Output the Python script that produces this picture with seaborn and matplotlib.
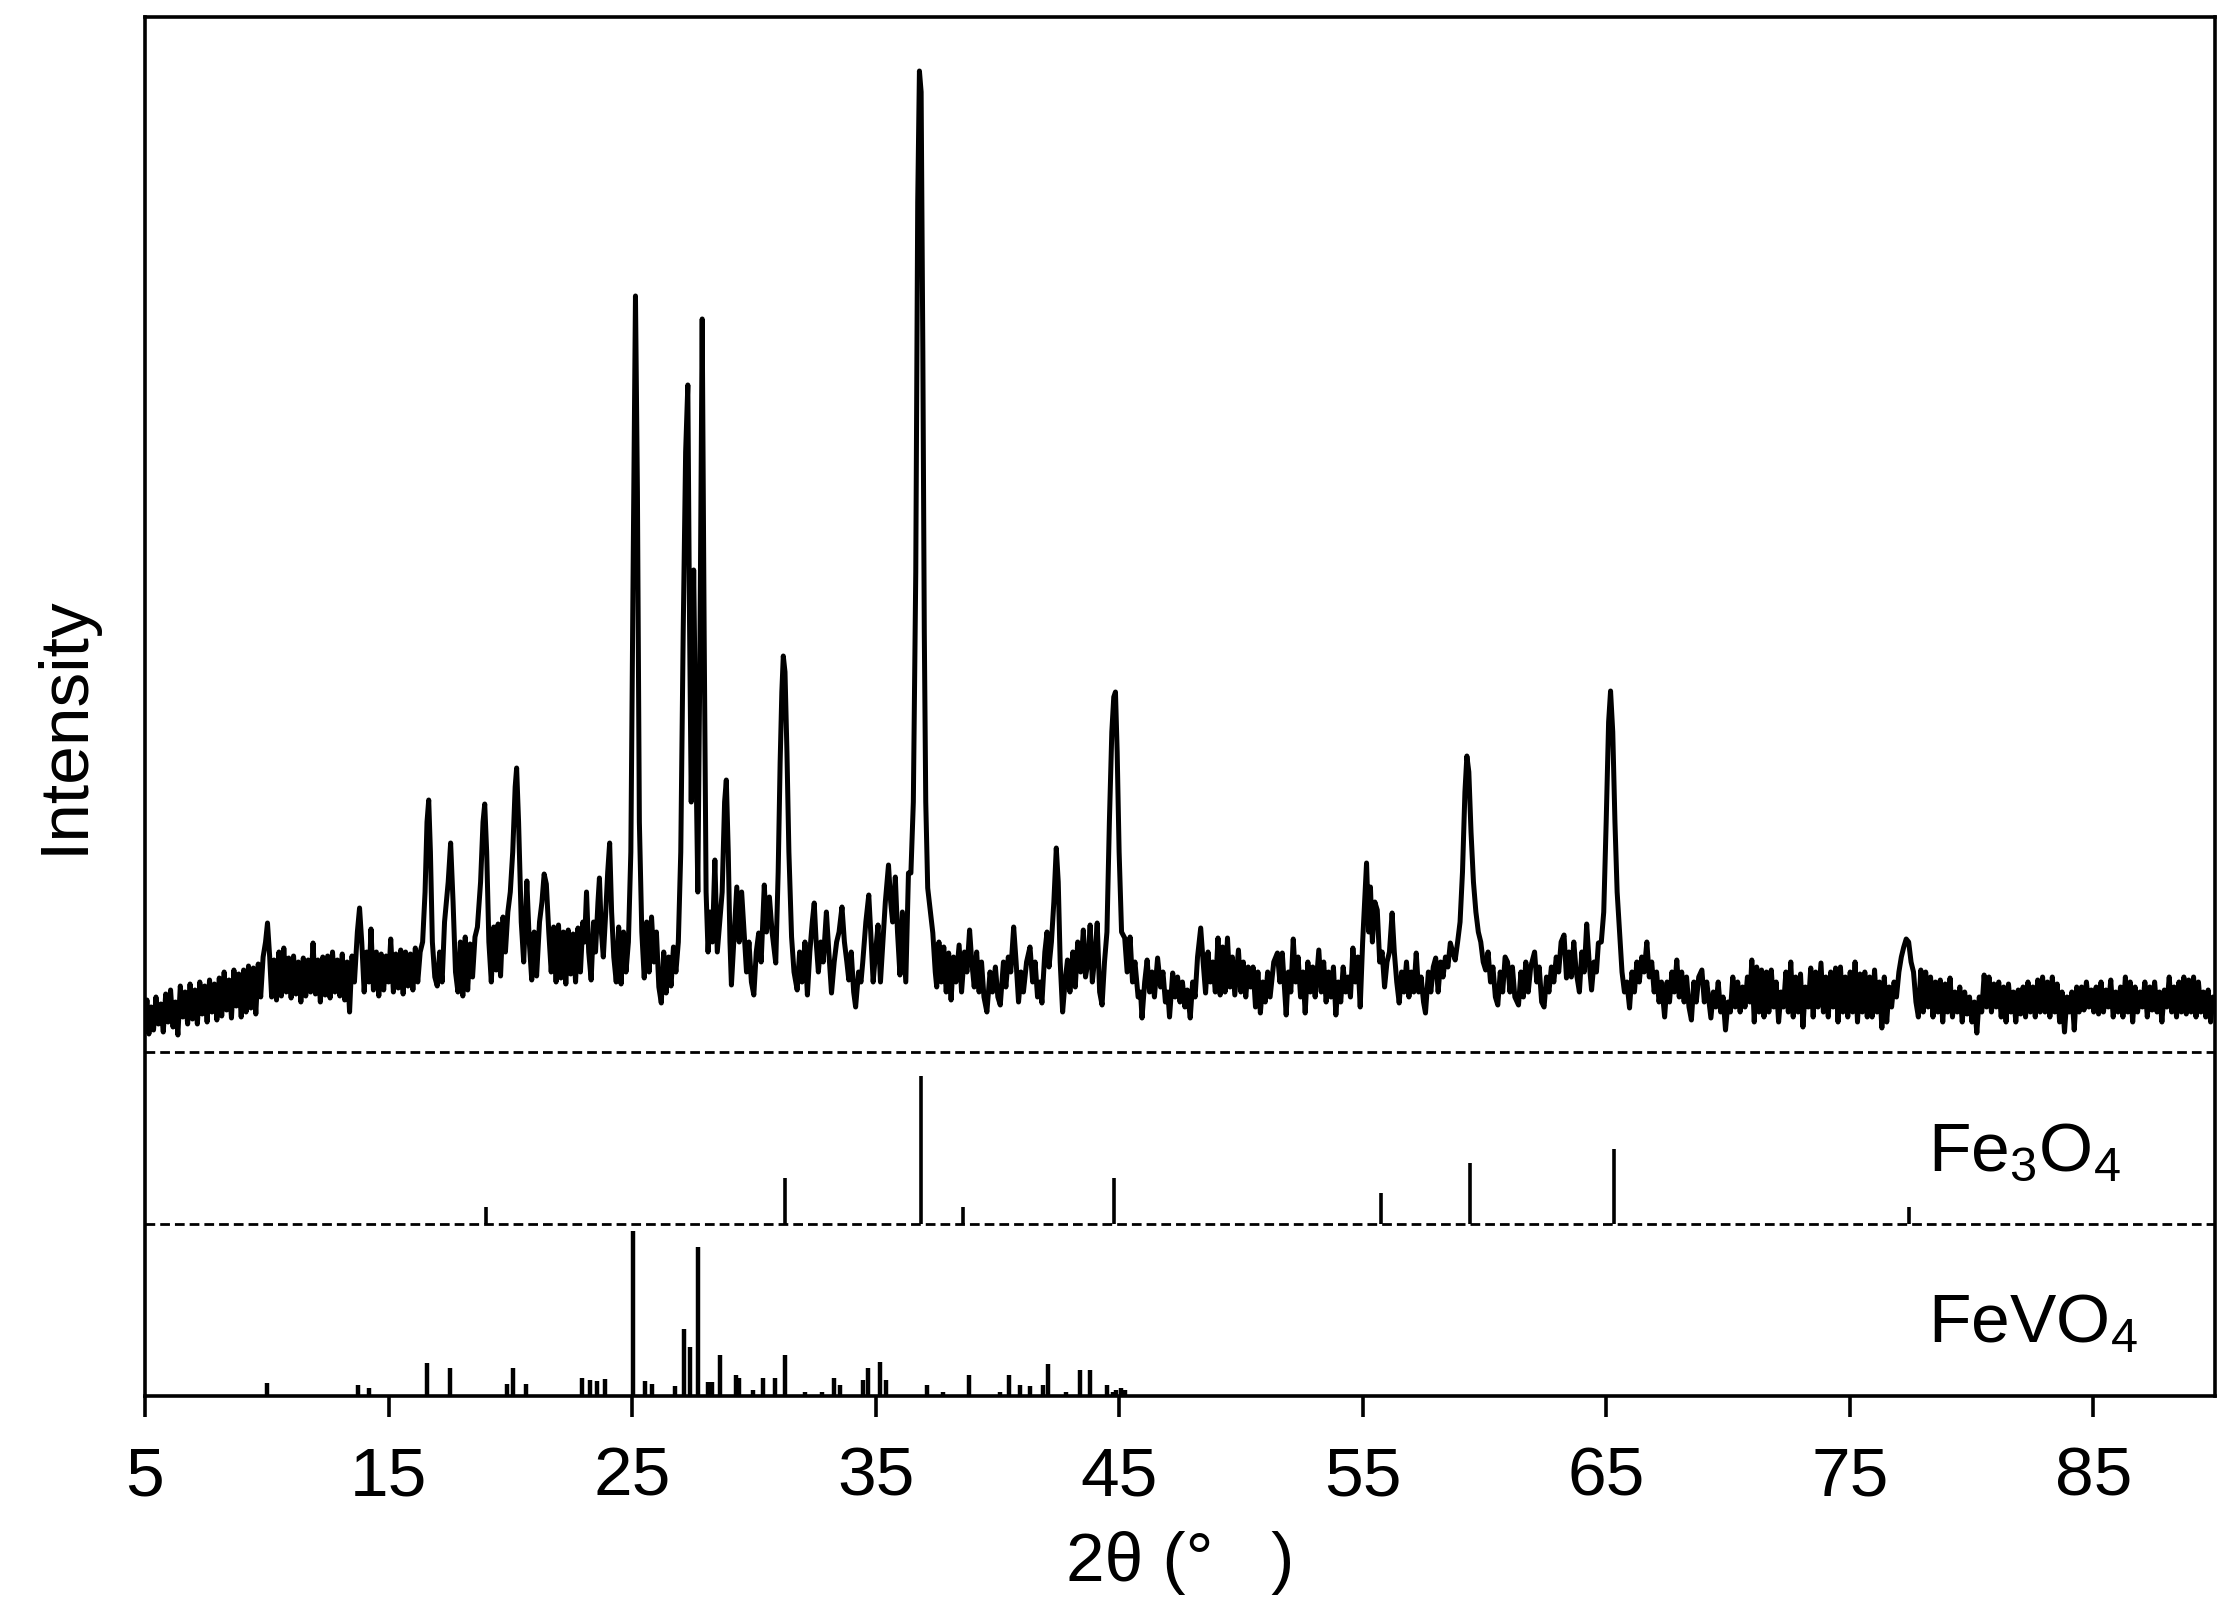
import numpy as np
import pandas as pd
import matplotlib
matplotlib.use("Agg")
import matplotlib.pyplot as plt
import seaborn as sns

# ---------------- data ----------------
# measured pattern: (2theta in degrees, intensity above the separator line, arb. units)
xrd_pattern = [
    (5.0,30),(5.08,52),(5.16,18),(5.25,45),(5.35,22),(5.45,55),(5.55,28),(5.65,48),(5.75,20),(5.85,58),
    (5.95,30),(6.05,62),(6.15,25),(6.25,50),(6.35,17),(6.45,66),(6.55,35),(6.65,60),(6.75,28),(6.85,68),
    (6.95,33),(7.05,62),(7.15,28),(7.25,70),(7.35,38),(7.45,66),(7.55,30),(7.65,72),(7.75,40),(7.85,68),
    (7.95,32),(8.05,74),(8.15,36),(8.25,80),(8.35,42),(8.45,72),(8.55,34),(8.65,82),(8.75,46),(8.85,78),
    (8.95,35),(9.05,82),(9.15,40),(9.25,86),(9.35,44),(9.45,84),(9.55,38),(9.65,88),(9.75,55),(9.85,95),
    (9.95,110),(10.03,129),(10.12,95),(10.2,55),
    (10.3,92),(10.4,52),(10.5,100),(10.6,56),(10.7,104),(10.8,60),(10.9,94),(11.0,54),(11.1,96),(11.2,58),
    (11.3,90),(11.4,50),(11.5,94),(11.6,56),(11.7,92),(11.8,60),(11.9,109),(12.0,58),(12.1,92),(12.2,50),
    (12.3,95),(12.4,57),(12.5,96),(12.6,54),(12.7,100),(12.8,60),(12.9,92),(13.0,56),(13.1,98),(13.2,52),
    (13.3,90),(13.4,40),(13.5,96),(13.6,70),(13.72,120),(13.81,144),(13.9,110),(14.0,60),(14.1,100),(14.2,70),
    (14.28,123),(14.38,62),(14.5,100),(14.6,56),(14.7,98),(14.8,62),(14.9,96),(15.0,70),(15.09,113),(15.2,60),
    (15.3,98),(15.4,64),(15.5,102),(15.6,58),(15.7,100),(15.8,66),(15.9,98),(16.0,62),(16.1,104),(16.2,70),
    (16.3,100),(16.4,110),(16.5,160),(16.58,230),(16.65,252),(16.72,200),(16.8,110),(16.9,75),(17.0,66),(17.1,100),
    (17.2,70),(17.3,130),(17.45,170),(17.55,209),(17.65,150),(17.75,80),(17.85,60),(17.95,110),(18.05,56),(18.15,115),
    (18.25,62),(18.35,108),(18.45,75),(18.55,115),(18.65,125),(18.78,170),(18.88,230),(18.95,248),(19.03,200),(19.12,110),
    (19.22,70),(19.32,125),(19.42,82),(19.5,128),(19.6,76),(19.7,135),(19.8,100),(19.9,140),(20.0,160),(20.1,200),
    (20.2,265),(20.26,284),(20.34,230),(20.45,130),(20.55,90),(20.68,171),(20.78,110),(20.88,72),(20.98,120),(21.08,76),
    (21.2,130),(21.3,150),(21.39,178),(21.48,168),(21.58,120),(21.68,80),(21.78,125),(21.88,70),(21.98,127),(22.08,74),
    (22.18,120),(22.28,68),(22.38,122),(22.48,78),(22.58,118),(22.68,70),(22.78,124),(22.88,80),(22.98,130),(23.05,110),
    (23.13,160),(23.22,100),(23.32,72),(23.42,130),(23.5,100),(23.6,150),(23.66,174),(23.74,120),(23.82,95),(23.92,140),
    (24.0,180),(24.08,209),(24.16,140),(24.25,95),(24.35,70),(24.45,125),(24.55,68),(24.65,120),(24.75,80),(24.85,110),
    (24.95,200),(25.05,500),(25.14,756),(25.22,560),(25.3,230),(25.4,120),(25.5,74),(25.6,130),(25.7,80),(25.8,135),
    (25.9,90),(26.0,120),(26.1,65),(26.2,49),(26.3,100),(26.4,59),(26.5,95),(26.6,66),(26.7,105),(26.8,80),
    (26.9,110),(27.0,200),(27.1,420),(27.2,600),(27.29,667),(27.36,430),(27.43,250),(27.53,482),(27.62,300),(27.7,160),
    (27.78,380),(27.88,733),(27.96,420),(28.04,160),(28.12,100),(28.2,140),(28.3,110),(28.4,192),(28.5,100),(28.6,130),
    (28.7,160),(28.8,250),(28.87,272),(28.95,200),(29.02,110),(29.08,67),(29.2,120),(29.3,165),(29.4,110),(29.5,160),
    (29.6,120),(29.7,80),(29.8,110),(29.9,70),(30.0,57),(30.1,100),(30.2,119),(30.3,90),(30.43,167),(30.52,120),
    (30.64,155),(30.75,120),(30.9,89),(31.0,180),(31.08,289),(31.15,360),(31.21,396),(31.28,380),(31.36,300),(31.44,200),
    (31.55,115),(31.65,80),(31.78,62),(31.88,100),(31.98,70),(32.1,110),(32.2,57),(32.3,100),(32.4,130),(32.48,149),
    (32.56,110),(32.65,80),(32.75,110),(32.85,90),(32.98,140),(33.08,100),(33.19,59),(33.3,90),(33.4,110),(33.5,120),
    (33.62,145),(33.72,110),(33.82,90),(33.9,72),(34.0,100),(34.1,60),(34.18,45),(34.3,80),(34.4,70),(34.47,89),
    (34.6,130),(34.72,157),(34.8,120),(34.9,70),(35.0,100),(35.1,127),(35.2,70),(35.3,110),(35.4,150),(35.53,187),
    (35.62,150),(35.7,130),(35.81,175),(35.9,120),(36.0,77),(36.1,140),(36.24,70),(36.35,179),(36.45,179),(36.55,250),
    (36.65,480),(36.73,850),(36.8,981),(36.87,960),(36.94,700),(37.0,420),(37.06,250),(37.14,164),(37.25,140),(37.35,119),
    (37.45,80),(37.51,65),(37.6,110),(37.7,70),(37.8,105),(37.9,60),(38.0,99),(38.1,52),(38.2,95),(38.3,70),
    (38.43,107),(38.53,60),(38.65,100),(38.75,80),(38.86,122),(38.95,90),(39.05,65),(39.15,100),(39.25,60),(39.35,90),
    (39.45,55),(39.57,40),(39.7,80),(39.8,60),(39.92,85),(40.02,55),(40.12,47),(40.25,90),(40.35,65),(40.45,95),
    (40.55,80),(40.67,125),(40.77,90),(40.87,50),(40.97,80),(41.07,60),(41.2,90),(41.34,105),(41.45,70),(41.55,90),
    (41.65,55),(41.75,70),(41.83,49),(41.95,100),(42.04,120),(42.12,85),(42.22,110),(42.32,150),(42.42,204),(42.5,170),
    (42.58,90),(42.68,40),(42.78,70),(42.88,92),(42.98,60),(43.1,100),(43.2,65),(43.3,110),(43.42,80),(43.53,122),
    (43.62,75),(43.72,90),(43.81,127),(43.9,70),(44.0,95),(44.1,129),(44.2,60),(44.3,47),(44.4,90),(44.5,120),
    (44.6,230),(44.7,320),(44.78,355),(44.85,360),(44.92,300),(45.0,200),(45.1,120),(45.23,114),(45.33,80),(45.45,115),
    (45.55,70),(45.65,90),(45.78,55),(45.88,60),(45.94,34),(46.05,70),(46.15,92),(46.25,60),(46.35,80),(46.45,55),
    (46.58,94),(46.7,65),(46.8,80),(46.9,50),(47.0,60),(47.07,35),(47.2,79),(47.3,55),(47.4,75),(47.5,50),
    (47.6,70),(47.7,45),(47.8,62),(47.92,34),(48.02,70),(48.12,55),(48.22,95),(48.35,124),(48.45,90),(48.55,59),
    (48.65,100),(48.75,70),(48.85,90),(48.95,60),(49.06,114),(49.15,57),(49.25,105),(49.35,60),(49.45,114),(49.55,65),
    (49.65,95),(49.75,57),(49.9,102),(50.0,60),(50.1,90),(50.2,55),(50.3,85),(50.4,65),(50.5,85),(50.6,45),
    (50.7,80),(50.8,39),(50.9,70),(51.0,50),(51.1,80),(51.2,55),(51.35,90),(51.5,99),(51.6,70),(51.7,99),
    (51.86,37),(51.95,80),(52.05,60),(52.15,113),(52.25,70),(52.35,95),(52.45,55),(52.55,80),(52.64,39),(52.75,90),
    (52.85,60),(52.95,85),(53.05,55),(53.2,102),(53.3,60),(53.4,90),(53.5,50),(53.6,80),(53.7,55),(53.8,85),
    (53.9,37),(54.0,70),(54.1,50),(54.2,85),(54.3,60),(54.4,75),(54.5,55),(54.6,104),(54.7,70),(54.8,95),
    (54.9,45),(55.0,110),(55.1,160),(55.16,189),(55.25,120),(55.32,165),(55.4,110),(55.5,150),(55.6,142),(55.7,90),
    (55.8,100),(55.9,65),(56.0,90),(56.1,100),(56.21,139),(56.3,100),(56.4,70),(56.5,49),(56.6,80),(56.7,60),
    (56.8,90),(56.9,55),(57.0,80),(57.1,60),(57.2,99),(57.3,60),(57.4,75),(57.5,50),(57.58,39),(57.7,80),
    (57.8,60),(57.9,85),(58.0,94),(58.1,60),(58.2,90),(58.3,75),(58.4,95),(58.5,85),(58.6,109),(58.7,100),
    (58.8,92),(58.9,110),(59.0,130),(59.1,180),(59.2,260),(59.28,296),(59.36,280),(59.45,220),(59.55,170),(59.65,140),
    (59.75,120),(59.85,110),(59.95,90),(60.05,82),(60.15,100),(60.25,70),(60.35,85),(60.45,55),(60.55,47),(60.65,80),
    (60.75,60),(60.85,95),(60.95,90),(61.05,60),(61.15,85),(61.25,55),(61.4,47),(61.5,80),(61.6,55),(61.7,90),
    (61.8,60),(61.9,85),(62.06,100),(62.15,70),(62.25,85),(62.35,50),(62.45,45),(62.55,75),(62.65,60),(62.75,85),
    (62.85,70),(62.95,95),(63.05,80),(63.15,110),(63.27,117),(63.37,74),(63.47,100),(63.57,75),(63.67,110),(63.77,80),
    (63.9,60),(64.0,100),(64.1,80),(64.2,128),(64.3,90),(64.4,62),(64.5,90),(64.6,80),(64.68,109),(64.8,110),
    (64.9,140),(65.0,230),(65.1,330),(65.18,361),(65.27,320),(65.36,230),(65.45,160),(65.55,120),(65.65,80),(65.75,60),
    (65.85,70),(65.96,44),(66.06,80),(66.16,60),(66.26,90),(66.36,70),(66.46,95),(66.56,80),(66.67,110),(66.77,75),
    (66.87,90),(66.97,60),(67.07,80),(67.17,50),(67.27,70),(67.4,35),(67.5,70),(67.6,50),(67.7,80),(67.8,60),
    (67.9,92),(68.0,55),(68.1,80),(68.2,50),(68.3,75),(68.4,45),(68.5,32),(68.6,70),(68.7,50),(68.8,75),
    (68.93,82),(69.03,50),(69.13,70),(69.3,34),(69.4,60),(69.5,45),(69.6,70),(69.7,40),(69.8,55),(69.9,22),
    (70.0,50),(70.1,40),(70.2,75),(70.3,45),(70.4,70),(70.5,40),(70.6,65),(70.7,45),(70.8,75),(70.9,50),
    (70.98,92),(71.08,30),(71.18,85),(71.28,40),(71.38,82),(71.48,35),(71.58,80),(71.68,40),(71.78,82),(71.88,45),
    (71.98,70),(72.08,30),(72.18,60),(72.28,45),(72.38,80),(72.48,40),(72.58,90),(72.68,35),(72.78,75),(72.88,40),
    (72.98,78),(73.08,25),(73.18,65),(73.3,45),(73.4,84),(73.5,35),(73.6,80),(73.7,45),(73.82,89),(73.92,40),
    (74.02,75),(74.12,35),(74.22,80),(74.32,45),(74.42,84),(74.52,30),(74.62,85),(74.72,40),(74.82,75),(74.92,35),
    (75.02,80),(75.12,40),(75.22,90),(75.32,30),(75.42,78),(75.52,40),(75.62,80),(75.72,35),(75.82,75),(75.92,35),
    (76.02,82),(76.12,40),(76.22,70),(76.32,24),(76.42,75),(76.52,30),(76.62,65),(76.72,45),(76.82,70),(76.92,55),
    (77.02,80),(77.12,95),(77.22,105),(77.32,113),(77.42,110),(77.52,90),(77.62,80),(77.72,50),(77.82,35),(77.92,82),
    (78.02,40),(78.12,80),(78.22,45),(78.32,75),(78.42,35),(78.52,70),(78.62,40),(78.72,72),(78.82,30),(78.92,68),
    (79.02,40),(79.12,74),(79.22,35),(79.32,60),(79.42,40),(79.52,65),(79.62,30),(79.72,60),(79.82,38),(79.92,55),
    (80.02,30),(80.12,50),(80.22,19),(80.32,55),(80.42,40),(80.52,77),(80.62,45),(80.72,75),(80.82,40),(80.92,68),
    (81.02,45),(81.12,70),(81.22,35),(81.32,65),(81.42,30),(81.52,68),(81.62,40),(81.72,60),(81.82,30),(81.92,62),
    (82.02,38),(82.12,65),(82.22,35),(82.32,70),(82.42,40),(82.52,65),(82.62,35),(82.72,72),(82.82,40),(82.92,75),
    (83.02,40),(83.12,70),(83.22,35),(83.32,75),(83.42,40),(83.52,68),(83.62,30),(83.72,60),(83.82,20),(83.92,55),
    (84.02,40),(84.12,60),(84.22,22),(84.32,65),(84.42,40),(84.52,65),(84.62,42),(84.72,70),(84.82,45),(84.92,62),
    (85.02,40),(85.12,65),(85.22,38),(85.32,70),(85.42,40),(85.52,62),(85.62,45),(85.72,72),(85.82,35),(85.92,60),
    (86.02,40),(86.12,65),(86.22,35),(86.32,75),(86.42,40),(86.52,70),(86.62,30),(86.72,65),(86.82,40),(86.92,60),
    (87.02,45),(87.12,70),(87.22,35),(87.32,65),(87.42,42),(87.52,70),(87.62,40),(87.72,60),(87.82,30),(87.92,62),
    (88.02,45),(88.12,75),(88.22,40),(88.32,65),(88.42,35),(88.52,70),(88.62,40),(88.72,75),(88.82,38),(88.92,72),
    (89.02,40),(89.12,75),(89.22,35),(89.32,70),(89.42,40),(89.52,60),(89.62,35),(89.72,62),(89.82,30),(89.92,55),
    (90.0,45),
]

# Fe3O4 reference pattern: positions (2theta) and relative intensities (%)
fe3o4_two_theta = [18.99, 31.29, 36.85, 38.58, 44.81, 55.74, 59.41, 65.31, 77.43]
fe3o4_rel_int = [11.3, 30.8, 100.0, 11.3, 30.8, 21.1, 40.9, 50.6, 11.3]

# FeVO4 reference pattern: positions (2theta) and relative intensities (%)
fevo4_two_theta = [10.03, 13.73, 14.21, 16.57, 17.51, 19.87, 20.10, 20.65, 22.94, 23.27,
                   23.56, 23.89, 25.04, 25.55, 25.83, 26.76, 27.13, 27.38, 27.71, 28.12,
                   28.30, 28.60, 29.26, 29.40, 29.97, 30.38, 30.88, 31.26, 32.11, 32.81,
                   33.30, 33.54, 34.50, 34.67, 35.19, 35.44, 37.10, 37.78, 38.83, 40.10,
                   40.47, 40.92, 41.35, 41.89, 42.10, 42.82, 43.38, 43.79, 44.50, 44.73,
                   44.88, 45.08, 45.24]
fevo4_rel_int = [7.7, 6.8, 4.7, 19.8, 16.8, 7.1, 16.8, 7.1, 10.7, 9.7,
                 8.9, 10.5, 100.0, 9.3, 7.4, 5.9, 40.5, 29.5, 90.0, 8.7,
                 8.7, 24.6, 12.5, 10.7, 3.8, 10.9, 10.7, 24.6, 2.6, 2.6,
                 10.9, 6.8, 9.7, 16.9, 20.8, 9.7, 6.8, 2.6, 12.5, 2.6,
                 12.5, 6.8, 5.9, 6.8, 19.5, 2.6, 15.5, 15.5, 6.8, 2.6,
                 3.8, 4.7, 3.6]

x_ticks = [5, 15, 25, 35, 45, 55, 65, 75, 85]
x_label = "2θ (°   )"
y_label = "Intensity"
phase_labels = [r"Fe$_3$O$_4$", r"FeVO$_4$"]

# ---------------- layout / style ----------------
FEVO4_BASE, FEVO4_SCALE = 0.0, 165.3 / 100.0
FE3O4_BASE, FE3O4_SCALE = 172.0, 148.3 / 100.0
PATTERN_BASE = 344.0
Y_TOP = 1379.0

sns.set_style("white")
plt.rcParams["font.family"] = ["Liberation Sans", "DejaVu Sans"]
plt.rcParams["mathtext.fontset"] = "custom"
plt.rcParams["mathtext.rm"] = "Liberation Sans"
plt.rcParams["mathtext.it"] = "Liberation Sans:italic"
plt.rcParams["mathtext.default"] = "regular"
for key in ("text.color", "axes.labelcolor", "xtick.color", "ytick.color", "axes.edgecolor"):
    plt.rcParams[key] = "black"

W, H = 2234, 1616
fig = plt.figure(figsize=(W / 100, H / 100), dpi=100)
ax = fig.add_axes([145 / W, 1 - 1396 / H, (2215 - 145) / W, (1396 - 17) / H])

df = pd.DataFrame(xrd_pattern, columns=["two_theta", "intensity"])
df["y"] = df["intensity"] + PATTERN_BASE
sns.lineplot(data=df, x="two_theta", y="y", ax=ax, color="black",
             linewidth=3.6, estimator=None, sort=False)

ax.vlines(fe3o4_two_theta, FE3O4_BASE,
          FE3O4_BASE + np.array(fe3o4_rel_int) * FE3O4_SCALE,
          color="black", linewidth=2.6)
ax.vlines(fevo4_two_theta, FEVO4_BASE,
          FEVO4_BASE + np.array(fevo4_rel_int) * FEVO4_SCALE,
          color="black", linewidth=3.2)

for yb in (FE3O4_BASE, PATTERN_BASE):
    ax.axhline(yb, color="black", linewidth=2.0, linestyle=(0, (3.5, 1.8)))

ax.text(78.2, 225, phase_labels[0], fontsize=50, ha="left", va="baseline", color="black")
ax.text(78.2, 54, phase_labels[1], fontsize=50, ha="left", va="baseline", color="black")

ax.set_xlim(5, 90)
ax.set_ylim(0, Y_TOP)
ax.set_xticks(x_ticks)
ax.set_xticklabels([str(t) for t in x_ticks])
ax.set_yticks([])
ax.tick_params(axis="x", direction="out", length=15, width=2.6,
               labelsize=50, pad=21, color="black", labelcolor="black", bottom=True)

for sp in ax.spines.values():
    sp.set_visible(True)
    sp.set_color("black")
    sp.set_linewidth(2.6)

ax.set_xlabel(x_label, fontsize=50, va="baseline", color="black")
ax.xaxis.set_label_coords(0.5, (35 - 220) / 1379)
ax.set_ylabel(y_label, fontsize=50, va="baseline", color="black")
ax.yaxis.set_label_coords((83 - 145) / 2070, 0.4866)

fig.savefig("out.png", dpi=100, facecolor="white")
